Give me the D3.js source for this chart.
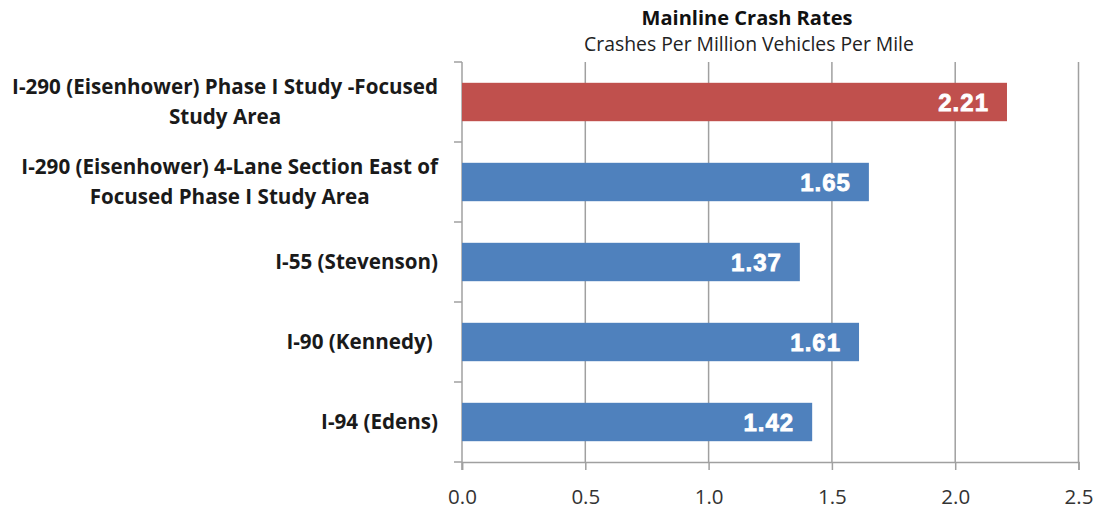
<!DOCTYPE html>
<html>
<head>
<meta charset="utf-8">
<script src="https://cdn.jsdelivr.net/npm/d3@7"></script>
<style>
  body { margin: 0; background: #fff; }
  svg { display: block; }
</style>
</head>
<body>
<svg id="chart" width="1098" height="516"></svg>
<script>
var categories = [
  ["I-290 (Eisenhower) Phase I Study -Focused", "Study Area"],
  ["I-290 (Eisenhower) 4-Lane Section East of", "Focused Phase I Study Area"],
  ["I-55 (Stevenson)"],
  ["I-90 (Kennedy) "],
  ["I-94 (Edens)"]
];
var rates = [2.21, 1.65, 1.37, 1.61, 1.42];
var barColors = ["#C0504D", "#4F81BD", "#4F81BD", "#4F81BD", "#4F81BD"];
var xTicks = [0, 0.5, 1.0, 1.5, 2.0, 2.5];

var labelFont = "'Open Sans', Lato, sans-serif";
var margin = {left: 462, right: 20, top: 62, bottom: 54};
var width = 1098, height = 516;

var svg = d3.select("#chart");

// scale a text's font size so it fills the wanted width
function fitSize(font, base, txt, target) {
  var t = svg.append("text").style("font", font.replace("SIZE", base + "px")).style("white-space", "pre").text(txt);
  var w = t.node().getComputedTextLength();
  t.remove();
  return base * target / w;
}

var x = d3.scaleLinear()
  .domain([0, 2.5])
  .range([margin.left, 1078.5]);

var y = d3.scaleBand()
  .domain(d3.range(categories.length))
  .range([margin.top, height - margin.bottom])
  .paddingInner(0.52)
  .paddingOuter(0.26);

var plotBottom = height - margin.bottom;

// title
var titleSize = fitSize("bold SIZE " + labelFont, 20, "Mainline Crash Rates", 211);
svg.append("text")
  .attr("x", 747).attr("y", 25)
  .attr("text-anchor", "middle")
  .style("font", "bold " + titleSize + "px " + labelFont)
  .attr("fill", "#111")
  .text("Mainline Crash Rates");
var subSize = fitSize("SIZE " + labelFont, 18, "Crashes Per Million Vehicles Per Mile", 330);
svg.append("text")
  .attr("x", 749).attr("y", 51)
  .attr("text-anchor", "middle")
  .style("font", subSize + "px " + labelFont)
  .attr("fill", "#222")
  .text("Crashes Per Million Vehicles Per Mile");

// vertical gridlines
svg.append("g")
  .selectAll("line")
  .data(xTicks.slice(1))
  .join("line")
  .attr("x1", function(d) { return x(d); })
  .attr("x2", function(d) { return x(d); })
  .attr("y1", margin.top)
  .attr("y2", plotBottom)
  .attr("stroke", "#a0a0a0")
  .attr("stroke-width", 1.5);

// bottom axis
var xAxis = svg.append("g")
  .attr("transform", "translate(0," + plotBottom + ")")
  .call(d3.axisBottom(x).tickValues(xTicks).tickFormat(d3.format(".1f")).tickSize(8).tickPadding(19));
xAxis.select(".domain").attr("stroke", "#a0a0a0").attr("stroke-width", 1.5);
xAxis.selectAll(".tick line").attr("stroke", "#a0a0a0").attr("stroke-width", 1.5);
xAxis.selectAll("text")
  .style("font", "20.5px " + labelFont)
  .attr("fill", "#333");

// left axis with category ticks between bands
var boundaries = d3.range(categories.length + 1).map(function(i) {
  return margin.top + i * (plotBottom - margin.top) / categories.length;
});
svg.append("line")
  .attr("x1", margin.left).attr("x2", margin.left)
  .attr("y1", margin.top).attr("y2", plotBottom + 8)
  .attr("stroke", "#a0a0a0").attr("stroke-width", 1.5);
svg.append("g")
  .selectAll("line")
  .data(boundaries)
  .join("line")
  .attr("x1", margin.left - 8).attr("x2", margin.left)
  .attr("y1", function(d) { return d; })
  .attr("y2", function(d) { return d; })
  .attr("stroke", "#a0a0a0").attr("stroke-width", 1.5);

// bars
svg.append("g")
  .selectAll("rect")
  .data(rates)
  .join("rect")
  .attr("x", x(0))
  .attr("y", function(d, i) { return y(i); })
  .attr("width", function(d) { return x(d) - x(0); })
  .attr("height", y.bandwidth())
  .attr("fill", function(d, i) { return barColors[i]; });

// value labels (slight stroke to get the heavy look)
svg.append("g")
  .selectAll("text")
  .data(rates)
  .join("text")
  .attr("x", function(d) { return x(d) - 18; })
  .attr("y", function(d, i) { return y(i) + y.bandwidth() / 2 + 9; })
  .attr("text-anchor", "end")
  .style("font", "bold 24px 'Liberation Sans', Arial, sans-serif")
  .style("letter-spacing", "1px")
  .attr("fill", "#fff")
  .attr("stroke", "#fff")
  .attr("stroke-width", 0.8)
  .text(function(d) { return d.toFixed(2); });

// category labels: multi-line, centred block, right aligned
var labelRight = 438;
var lineGap = 30;
var catSize = fitSize("bold SIZE " + labelFont, 18, categories[0][0], 426);
categories.forEach(function(lines, i) {
  var cy = y(i) + y.bandwidth() / 2;
  var g = svg.append("g");
  var texts = g.selectAll("text")
    .data(lines)
    .join("text")
    .attr("y", function(d, j) { return cy + (j - (lines.length - 1) / 2) * lineGap + 7; })
    .attr("text-anchor", "middle")
    .style("font", "bold " + catSize + "px " + labelFont)
    .attr("fill", "#1a1a1a")
    .style("white-space", "pre")
    .text(function(d) { return d; });
  var maxW = 0;
  texts.each(function() { maxW = Math.max(maxW, this.getComputedTextLength()); });
  texts.attr("x", labelRight - maxW / 2);
});
</script>
</body>
</html>
